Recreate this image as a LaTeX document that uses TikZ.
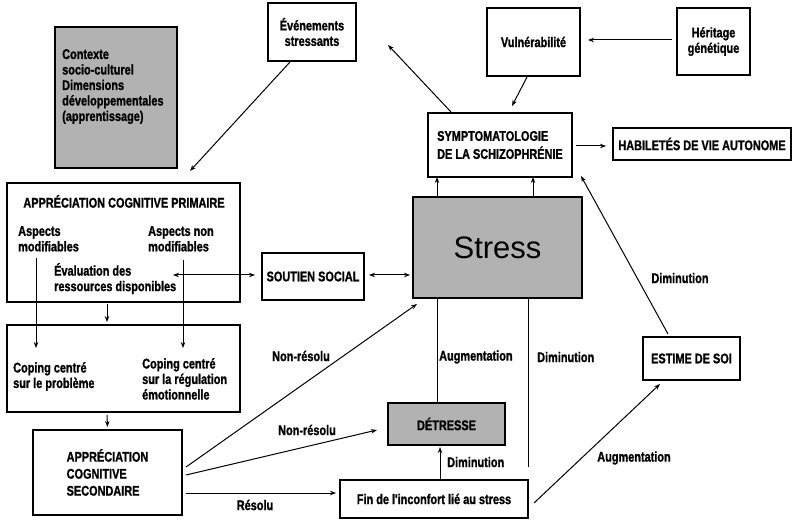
\documentclass[tikz,border=0pt]{standalone}
\usepackage{fontspec}
\setmainfont{Liberation Sans}
\newfontfamily\etroite{Liberation Sans}[FakeStretch=0.78,FakeBold=1.2]
\usetikzlibrary{calc,positioning,arrows.meta}
\newcommand\grasinter[1]{\etroite\bfseries\fontsize{14}{#1}\selectfont}
\newcommand\petitgras{\grasinter{15.5}}

\tikzset{
  boite/.style={draw, line width=2pt, inner sep=2pt, font=\petitgras},
  grise/.style={boite, fill=black!30},
  texte/.style={font=\petitgras, inner sep=0pt, align=left, anchor=north west},
  etiq/.style={font=\petitgras, inner sep=0pt},
  fl/.style={line width=1pt, -{Stealth[length=6pt,width=4.5pt]}},
  fldouble/.style={line width=1pt, {Stealth[length=6pt,width=4.5pt]}-{Stealth[length=6pt,width=4.5pt]}},
  trait/.style={line width=1pt}
}

\begin{document}
\begin{tikzpicture}[x=1pt,y=-1pt]
	\useasboundingbox (0,0) rectangle (792,521);
	% boites
	\node[grise, minimum width=122pt, minimum height=141pt] (ctx) at (116,97.5) {};
	\node[texte] (ctxtxt) at (62,49) {Contexte\\socio-culturel\\Dimensions\\développementales\\(apprentissage)};
	\node[boite, minimum width=88pt, minimum height=58pt, align=center] (evt) at (312,32) {Événements\\stressants};
	\node[boite, minimum width=93pt, minimum height=68pt] (vul) at (533.5,42) {Vulnérabilité};
	\node[boite, minimum width=73pt, minimum height=67pt, align=center] (her) at (713.5,41.5) {Héritage\\génétique};
	\node[boite, minimum width=144pt, minimum height=64pt, align=left, font=\grasinter{18}] (sym) at (500,145) {SYMPTOMATOLOGIE\\DE LA SCHIZOPHRÉNIE};
	\node[boite, minimum width=178pt, minimum height=32pt] (hab) at (702,144) {HABILETÉS DE VIE AUTONOME};
	\node[grise, minimum width=169pt, minimum height=101pt, font=\fontsize{31}{36}\selectfont] (stress) at (497.5,247.5) {Stress};
	\node[boite, minimum width=233pt, minimum height=119pt] (prim) at (123.5,242.5) {};
	\node[texte, anchor=north] (primtit) at (124,195) {APPRÉCIATION COGNITIVE PRIMAIRE};
	\node[texte] (aspmod) at (18,226) {Aspects\\modifiables};
	\node[texte] (aspnon) at (148,226) {Aspects non\\modifiables};
	\node[texte] (evalres) at (54,263) {Évaluation des\\ressources disponibles};
	\node[boite, minimum width=102pt, minimum height=47pt] (soutien) at (313,276.5) {SOUTIEN SOCIAL};
	\node[boite, minimum width=233pt, minimum height=87pt] (coping) at (123.5,368.5) {};
	\node[texte] (cop1) at (13,362) {Coping centré\\sur le problème};
	\node[texte] (cop2) at (142,358) {Coping centré\\sur la régulation\\émotionnelle};
	\node[boite, minimum width=149pt, minimum height=85pt, align=left, font=\grasinter{17}] (sec) at (107.5,472.5) {APPRÉCIATION\\COGNITIVE\\SECONDAIRE};
	\node[boite, minimum width=188pt, minimum height=38pt] (fin) at (434,499) {Fin de l'inconfort lié au stress};
	\node[grise, minimum width=117pt, minimum height=42pt] (det) at (446.5,424) {DÉTRESSE};
	\node[boite, minimum width=97pt, minimum height=43pt] (est) at (691.5,358.5) {ESTIME DE SOI};
	% fleches
	\draw[fl] ($(evt.south)+(-22,0)$) -- ($(prim.north)+(66.5,-11)$);
	\draw[fl] ($(sym.north west)+(24,0)$) -- ($(evt.east)+(31,13)$);
	\draw[fl] ($(vul.south)+(-6.5,0)$) -- ($(sym.north)+(12,-6)$);
	\draw[fl] ($(her.west)+(-4,-1.5)$) -- ($(vul.east)+(7,-2)$);
	\draw[fl] ($(sym.east)+(3,1)$) -- ($(hab.west)+(-6,2)$);
	\draw[fl] ($(stress.north)+(-60.5,0)$) -- ($(sym.south)+(-63,-1)$);
	\draw[fl] ($(stress.north)+(35.5,0)$) -- ($(sym.south)+(33,-1)$);
	\draw[fldouble] ($(prim.east)+(-68,32.5)$) -- ($(soutien.west)+(-6,-1.5)$);
	\draw[fldouble] ($(soutien.east)+(4,-1.5)$) -- ($(stress.west)+(-2,27.5)$);
	\draw[fl] ($(aspmod.north west)+(18,32)$) -- ($(cop1.north west)+(23,-14)$);
	\draw[fl] ($(aspnon.north west)+(35,34)$) -- ($(cop2.north west)+(41,-10)$);
	\draw[fl] ($(prim.south)+(-16.5,1)$) -- ($(coping.north)+(-16.5,-2)$);
	\draw[fl] ($(coping.south)+(-16.5,2)$) -- ($(sec.north)+(0,-2)$);
	\draw[fl] ($(sec.east)+(3,-5.5)$) -- ($(stress.south west)+(5,5)$);
	\draw[fl] ($(sec.east)+(3,2.5)$) -- ($(det.west)+(-10,6)$);
	\draw[fl] ($(sec.east)+(3,20.5)$) -- ($(fin.west)+(-3,-6)$);
	\draw[trait] ($(det.north)+(-9.5,0)$) -- ($(stress.south)+(-60.5,0)$);
	\draw[trait] ($(fin.north)+(94,-12)$) -- ($(stress.south)+(30.5,0)$);
	\draw[fl] ($(fin.north)+(6,0)$) -- ($(det.south)+(-6.5,1)$);
	\draw[fl] ($(fin.east)+(5,4)$) -- ($(est.south)+(-31.5,3)$);
	\draw[fl] ($(est.north)+(-23.5,-2)$) -- ($(sym.south east)+(8,-2)$);
	% etiquettes
	\node[etiq] (nr1) at (301,356) {Non-résolu};
	\node[etiq] (nr2) at (307,430) {Non-résolu};
	\node[etiq] (res) at (255,505) {Résolu};
	\node[etiq, anchor=west] (aug1) at (439,357) {Augmentation};
	\node[etiq, anchor=west] (dim1) at (537,357) {Diminution};
	\node[etiq, anchor=west] (dim2) at (447,462) {Diminution};
	\node[etiq] (aug2) at (634,458) {Augmentation};
	\node[etiq] (dim3) at (680,278) {Diminution};
\end{tikzpicture}
\end{document}
